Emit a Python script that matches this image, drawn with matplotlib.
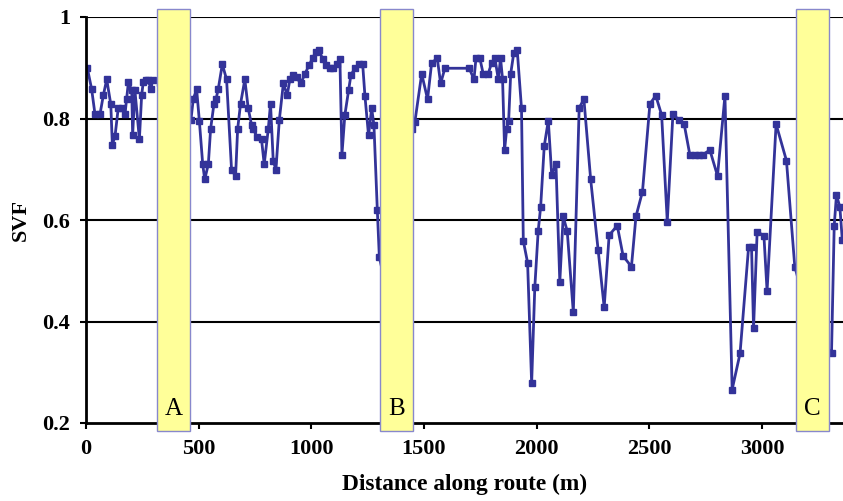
import matplotlib
matplotlib.use("Agg")
import matplotlib.pyplot as plt
from matplotlib.patches import Rectangle

# SVF measured along the route
distance_m = [
    6, 25, 40, 62, 77, 92, 110, 117, 129, 143, 158, 173, 180, 188, 203, 207, 217,
    237, 247, 254, 266, 276, 288, 296, 330, 390, 440,
    466, 476, 491, 503, 518, 527, 543, 553, 568, 577, 587, 605, 624, 646, 664,
    673, 686, 705, 720, 735, 741, 760, 779, 791, 809, 819, 831, 843, 858, 876,
    893, 905, 920, 935, 953, 972, 990, 1006, 1021, 1035, 1050, 1065, 1083, 1097,
    1112, 1127, 1136, 1149, 1166, 1176, 1194, 1211, 1228, 1238, 1254, 1268, 1278,
    1293, 1302, 1340, 1400, 1445,
    1460, 1490, 1516, 1534, 1559, 1574, 1593, 1701, 1722, 1731, 1748, 1763, 1785,
    1800, 1815, 1830, 1840, 1849, 1858, 1867, 1876, 1885, 1899, 1914, 1933, 1941,
    1960, 1978, 1992, 2007, 2018, 2034, 2052, 2067, 2086, 2103, 2118, 2136, 2163,
    2189, 2210, 2240, 2273, 2300, 2322, 2358, 2384, 2421, 2441, 2470, 2503, 2529,
    2555, 2580, 2605, 2633, 2655, 2680, 2703, 2722, 2739, 2769, 2803, 2836, 2868,
    2903, 2941, 2954, 2963, 2979, 3009, 3023, 3063, 3109, 3146, 3200, 3270,
    3309, 3321, 3331, 3346, 3357,
]
svf = [
    0.899, 0.858, 0.808, 0.808, 0.846, 0.877, 0.828, 0.748, 0.766, 0.820, 0.820,
    0.808, 0.838, 0.871, 0.856, 0.767, 0.856, 0.759, 0.846, 0.871, 0.876, 0.876,
    0.858, 0.876, 0.870, 0.840, 0.810,
    0.798, 0.838, 0.858, 0.796, 0.710, 0.680, 0.710, 0.779, 0.829, 0.838, 0.858,
    0.907, 0.877, 0.699, 0.687, 0.779, 0.829, 0.877, 0.820, 0.787, 0.779, 0.764,
    0.759, 0.710, 0.779, 0.829, 0.717, 0.699, 0.797, 0.869, 0.846, 0.877, 0.886,
    0.881, 0.869, 0.888, 0.905, 0.919, 0.932, 0.935, 0.917, 0.905, 0.899, 0.899,
    0.907, 0.917, 0.729, 0.807, 0.856, 0.886, 0.899, 0.907, 0.907, 0.845, 0.767,
    0.820, 0.787, 0.620, 0.527, 0.450, 0.620, 0.780,
    0.794, 0.888, 0.838, 0.909, 0.919, 0.869, 0.899, 0.899, 0.877, 0.919, 0.919,
    0.888, 0.888, 0.909, 0.919, 0.877, 0.919, 0.877, 0.738, 0.779, 0.796, 0.888,
    0.930, 0.935, 0.820, 0.559, 0.516, 0.278, 0.467, 0.578, 0.626, 0.746, 0.796,
    0.689, 0.710, 0.478, 0.607, 0.578, 0.418, 0.821, 0.838, 0.680, 0.541, 0.428,
    0.570, 0.589, 0.529, 0.508, 0.607, 0.656, 0.829, 0.845, 0.807, 0.597, 0.808,
    0.797, 0.789, 0.729, 0.729, 0.729, 0.729, 0.738, 0.687, 0.845, 0.266, 0.337,
    0.547, 0.547, 0.387, 0.577, 0.569, 0.460, 0.789, 0.717, 0.508, 0.420, 0.360,
    0.337, 0.589, 0.649, 0.626, 0.560,
]

# Highlighted route sections
band_labels = ["A", "B", "C"]
band_start = [314, 1304, 3150]
band_end = [461, 1451, 3296]

x_ticks = [0, 500, 1000, 1500, 2000, 2500, 3000]
y_ticks = [0.2, 0.4, 0.6, 0.8, 1.0]
y_tick_labels = ["0.2", "0.4", "0.6", "0.8", "1"]

serif = ["Liberation Serif", "DejaVu Serif"]

fig = plt.figure(figsize=(8.43, 5.01), dpi=100)
ax = fig.add_axes([86 / 843, 1 - 423 / 501, 1 - 86 / 843, (423 - 17) / 501])

ax.set_xlim(0, 3360)
ax.set_ylim(0.2, 1.0)

for y in y_ticks[1:]:
    ax.axhline(y, color="black", lw=1.5, zorder=1)

ax.plot(distance_m, svf, color="#333399", lw=2.0, marker="s", markersize=5,
        markerfacecolor="#333399", markeredgecolor="#333399", zorder=3,
        clip_on=True)

for lab, x0, x1 in zip(band_labels, band_start, band_end):
    ax.add_patch(Rectangle((x0, 0.185), x1 - x0, 1.016 - 0.185,
                           facecolor="#FFFF99", edgecolor="#8888CC", lw=1.0,
                           zorder=5, clip_on=False))
    ax.text((x0 + x1) / 2, 0.216, lab, ha="center", va="baseline",
            fontsize=18, family=serif, zorder=6)

for side in ("top", "right"):
    ax.spines[side].set_visible(False)
ax.spines["left"].set_linewidth(2.0)
ax.spines["bottom"].set_linewidth(2.0)
ax.spines["left"].set_zorder(4)
ax.spines["bottom"].set_zorder(4)

ax.set_xticks(x_ticks)
ax.set_xticklabels([str(t) for t in x_ticks])
ax.set_yticks(y_ticks)
ax.set_yticklabels(y_tick_labels)
ax.tick_params(axis="both", direction="out", length=4.5, width=1.5,
               labelsize=16)
ax.tick_params(axis="x", pad=7)
ax.tick_params(axis="y", pad=7)
for lbl in ax.get_xticklabels() + ax.get_yticklabels():
    lbl.set_family(serif)
    lbl.set_fontweight("bold")

ax.set_xlabel("Distance along route (m)", fontsize=16.8, fontweight="bold",
              family=serif, labelpad=11)
ax.set_ylabel("SVF", fontsize=16, fontweight="bold", family=serif,
              labelpad=8)

fig.savefig("out.png", dpi=100)
